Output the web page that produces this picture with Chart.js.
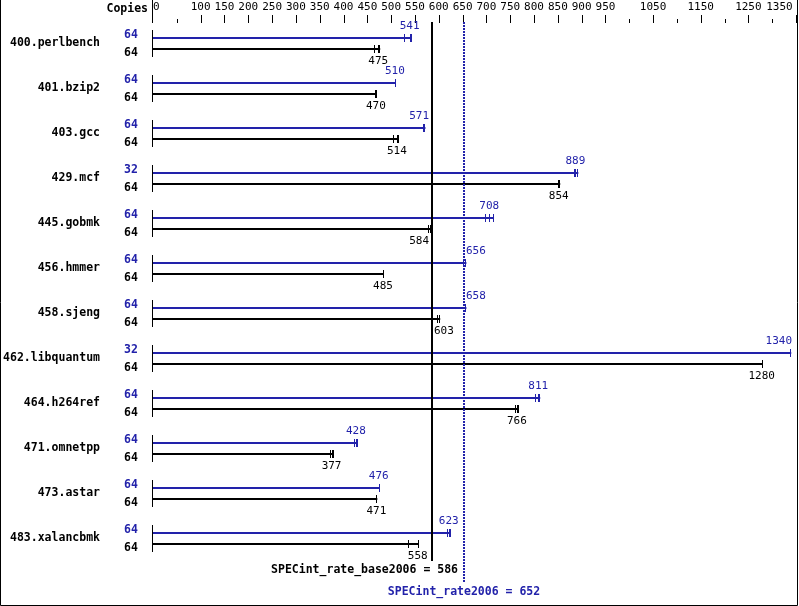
<!DOCTYPE html>
<html><head><meta charset="utf-8">
<script src="https://cdn.jsdelivr.net/npm/chart.js@4"></script>
<style>html,body{margin:0;padding:0;background:#fff}#wrap{width:799px;height:606px;position:relative}</style>
</head><body><div id="wrap"><canvas id="c" width="799" height="606"></canvas></div>
<script>
const benchmarks = ['400.perlbench','401.bzip2','403.gcc','429.mcf','445.gobmk','456.hmmer','458.sjeng','462.libquantum','464.h264ref','471.omnetpp','473.astar','483.xalancbmk'];
const peakCopies = [64,64,64,32,64,64,64,32,64,64,64,64];
const baseCopies = [64,64,64,64,64,64,64,64,64,64,64,64];
const peakRatio = [541,510,571,889,708,656,658,1340,811,428,476,623];
const baseRatio = [475,470,514,854,584,485,603,1280,766,377,471,558];
const peakRuns = [[530,541,543],[510],[568,571,572],[885,889,893],[700,708,716],[654,658],[658],[1340],[805,811,813],[425,428,430],[476],[620,623,625]];
const baseRuns = [[467,475,477],[468,470],[505,514,516],[852,855],[580,584],[485],[598,603],[1280],[762,766,768],[374,377,379],[471],[538,558]];
const specBase = 586;
const specPeak = 652;
const labelledTicks = [0,100,150,200,250,300,350,400,450,500,550,600,650,700,750,800,850,900,950,1050,1150,1250,1350];
const minorTicks = [50,1000,1100,1200,1300];

const BLUE = '#2222aa';
const MONO = "'DejaVu Sans Mono', monospace";

const overlay = {
  id: 'overlay',
  afterDatasetsDraw(chart) {
    const ctx = chart.ctx, xs = chart.scales.x, area = chart.chartArea;
    const mp = chart.getDatasetMeta(0), mb = chart.getDatasetMeta(1);
    const x0 = Math.round(xs.getPixelForValue(0));
    ctx.save();
    // frame
    ctx.strokeStyle = '#000'; ctx.lineWidth = 1;
    ctx.beginPath();
    ctx.moveTo(0.5, 0); ctx.lineTo(0.5, 605.5); ctx.lineTo(797.5, 605.5); ctx.lineTo(797.5, 0);
    ctx.stroke();
    // top axis vertical and ticks
    ctx.beginPath(); ctx.moveTo(x0 - 0.5, 0); ctx.lineTo(x0 - 0.5, 23); ctx.stroke();
    labelledTicks.forEach(v => { if (v === 0) return; const x = Math.round(xs.getPixelForValue(v)) + 0.5; ctx.beginPath(); ctx.moveTo(x, 15); ctx.lineTo(x, 23); ctx.stroke(); });
    minorTicks.forEach(v => { const x = Math.round(xs.getPixelForValue(v)) + 0.5; ctx.beginPath(); ctx.moveTo(x, 19); ctx.lineTo(x, 23); ctx.stroke(); });
    // header
    ctx.font = "bold 11.5px " + MONO; ctx.fillStyle = '#000'; ctx.textAlign = 'right'; ctx.textBaseline = 'middle';
    ctx.fillText('Copies', 148, 9);
    // reference lines
    const xb = Math.round(xs.getPixelForValue(specBase));
    const xp = Math.round(xs.getPixelForValue(specPeak));
    ctx.strokeStyle = '#000'; ctx.lineWidth = 2;
    ctx.beginPath(); ctx.moveTo(xb, area.top + 1); ctx.lineTo(xb, area.bottom); ctx.stroke();
    ctx.strokeStyle = BLUE; ctx.setLineDash([2, 1]);
    ctx.beginPath(); ctx.moveTo(xp, area.top + 1); ctx.lineTo(xp, 583); ctx.stroke();
    ctx.setLineDash([]);
    ctx.font = "bold 11.5px " + MONO; ctx.textBaseline = 'middle';
    ctx.fillStyle = '#000'; ctx.textAlign = 'right';
    ctx.fillText('SPECint_rate_base2006 = ' + specBase, xb + 26, 570);
    ctx.fillStyle = BLUE; ctx.textAlign = 'center';
    ctx.fillText('SPECint_rate2006 = ' + specPeak, xp, 592);
    // per benchmark
    benchmarks.forEach((b, i) => {
      const yp = Math.round(mp.data[i].y), yb = Math.round(mb.data[i].y);
      // group axis segment
      ctx.strokeStyle = '#000'; ctx.lineWidth = 1;
      ctx.beginPath(); ctx.moveTo(x0 - 0.5, yp - 8); ctx.lineTo(x0 - 0.5, yb + 8); ctx.stroke();
      // whiskers
      [[peakRuns[i], yp, BLUE], [baseRuns[i], yb, '#000']].forEach(([runs, y, col]) => {
        ctx.strokeStyle = col; ctx.lineWidth = 1;
        runs.forEach(v => { const x = Math.round(xs.getPixelForValue(v)) - 0.5; ctx.beginPath(); ctx.moveTo(x, y - 4); ctx.lineTo(x, y + 4); ctx.stroke(); });
      });
      // copies
      ctx.font = "bold 11.5px " + MONO; ctx.textAlign = 'left'; ctx.textBaseline = 'middle';
      ctx.fillStyle = BLUE; ctx.fillText(String(peakCopies[i]), 124, yp - 3);
      ctx.fillStyle = '#000'; ctx.fillText(String(baseCopies[i]), 124, yb + 4);
      // value labels
      ctx.font = "11px " + MONO;
      const place = (val, y, col) => {
        const t = String(val); const w = ctx.measureText(t).width; const xc = xs.getPixelForValue(val) - 1;
        let left = xc - w / 2;
        [xb, xp].forEach(L => { if (left < L + 2 && left + w > L - 2) { left = (xc < L) ? L - 3 - w : L + 2; } });
        if (left + w > 792) left = 792 - w;
        ctx.fillStyle = col; ctx.textAlign = 'left'; ctx.fillText(t, left, y);
      };
      place(peakRatio[i], yp - 12, BLUE);
      place(baseRatio[i], yb + 12, '#000');
    });
    ctx.restore();
  }
};

new Chart(document.getElementById('c'), {
  type: 'bar',
  data: {
    labels: benchmarks,
    datasets: [
      { label: 'Peak', data: peakRuns.map(r => [0, Math.max(...r)]), backgroundColor: BLUE, borderWidth: 0, categoryPercentage: 22/45, barPercentage: 2/11 },
      { label: 'Base', data: baseRuns.map(r => [0, Math.max(...r)]), backgroundColor: '#000', borderWidth: 0, categoryPercentage: 22/45, barPercentage: 2/11 }
    ]
  },
  options: {
    indexAxis: 'y', responsive: false, animation: false, devicePixelRatio: 1,
    layout: { padding: { top: 0, left: 0, right: 3, bottom: 45 } },
    plugins: { legend: { display: false }, tooltip: { enabled: false } },
    scales: {
      x: {
        type: 'linear', position: 'top', min: 0, max: 1350,
        grid: { display: false, drawTicks: false }, border: { display: false },
        afterBuildTicks(s) { s.ticks = labelledTicks.concat(minorTicks).sort((a, b) => a - b).map(v => ({ value: v })); },
        afterFit(s) { s.height = 21; s.paddingLeft = 0; s.paddingRight = 0; },
        ticks: { autoSkip: false, maxRotation: 0, minRotation: 0, padding: 7, color: '#000', font: { family: MONO, size: 11 },
          callback: v => {
            if (!labelledTicks.includes(v)) return '';
            if (v === 0) return ' 0';
            if (v === 1350) return '1350     ';
            return String(v);
          } }
      },
      y: {
        type: 'category', grid: { display: false, drawTicks: false }, border: { display: false },
        afterFit(s) { s.width = 153; s.paddingTop = 0; s.paddingBottom = 0; },
        ticks: { padding: 53, color: '#000', font: { family: MONO, size: 11.5, weight: 'bold' } }
      }
    }
  },
  plugins: [overlay]
});
</script></body></html>
